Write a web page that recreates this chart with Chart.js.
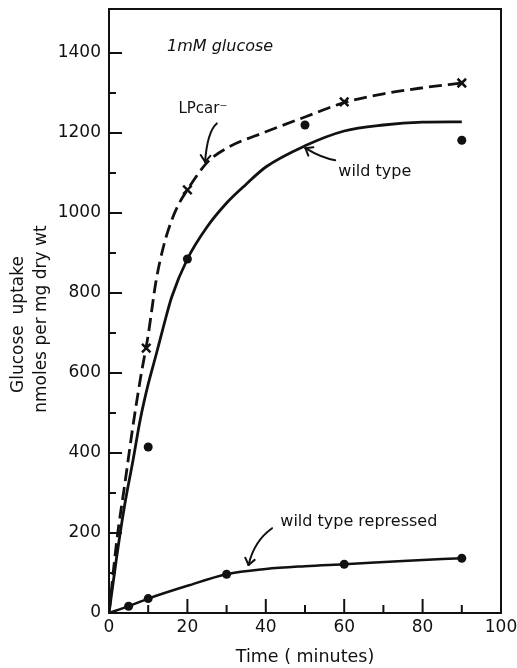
<!DOCTYPE html>
<html>
<head>
<meta charset="utf-8">
<title>Glucose uptake</title>
<script src="https://cdn.jsdelivr.net/npm/chart.js@4/dist/chart.umd.min.js"></script>
<style>
  html, body { margin: 0; padding: 0; background: #fff; }
  canvas { display: block; }
</style>
</head>
<body>
<canvas id="uptake-chart" width="517" height="668"></canvas>
<script>
// Measured points: time (minutes) and uptake (nmoles per mg dry wt)
const lpTimes = [9.5, 20, 60, 90];
const lpValues = [662, 1058, 1278, 1325];
const wtTimes = [10, 20, 50, 90];
const wtValues = [415, 885, 1220, 1182];
const repTimes = [5, 10, 30, 60, 90];
const repValues = [17, 36, 97, 122, 137];

// Hand-drawn curves
const lpCurveTimes = [0, 2, 4, 6, 8, 10, 12, 14, 16, 18, 20, 25, 30, 40, 50, 60, 70, 80, 90];
const lpCurveValues = [0, 182, 320, 460, 585, 695, 830, 920, 982, 1026, 1058, 1126, 1162, 1203, 1240, 1276, 1298, 1313, 1325];
const wtCurveTimes = [0, 2, 4, 6, 8, 10, 12, 14, 16, 20, 25, 30, 35, 40, 50, 60, 70, 80, 90];
const wtCurveValues = [0, 143, 270, 375, 485, 572, 645, 720, 790, 885, 965, 1025, 1072, 1115, 1168, 1205, 1220, 1227, 1228];
const repCurveTimes = [0, 5, 10, 20, 30, 40, 50, 60, 75, 90];
const repCurveValues = [0, 17, 36, 68, 97, 110, 117, 122, 130, 137];

// Axes
const xTicks = [0, 10, 20, 30, 40, 50, 60, 70, 80, 90, 100];
const xLabelled = [0, 20, 40, 60, 80, 100];
const yTicks = [0, 100, 200, 300, 400, 500, 600, 700, 800, 900, 1000, 1100, 1200, 1300, 1400];
const yLabelled = [0, 200, 400, 600, 800, 1000, 1200, 1400];

const ink = '#111';
const fontFamily = '"DejaVu Sans", "Liberation Sans", sans-serif';

// Annotations, placed in data units (minutes, nmoles)
const notes = [
    { text: '1mM glucose', t: 14.8, v: 1405, font: 'italic 16px ' + fontFamily },
    { text: 'LPcar\u207B', t: 17.7, v: 1249, font: '15px ' + fontFamily },
    { text: 'wild type', t: 58.5, v: 1092, font: '16px ' + fontFamily },
    { text: 'wild type repressed', t: 43.7, v: 217, font: '16px ' + fontFamily }
];
const arrows = [
    { from: [27.5, 1224], via: [25.1, 1204], to: [24.5, 1128] },
    { from: [57.7, 1132], via: [54.3, 1137], to: [50.1, 1162] },
    { from: [41.6, 212], via: [37, 180], to: [35.6, 120] }
];

function pairs(times, values) {
    return times.map((t, i) => ({ x: t, y: values[i] }));
}

function line(ctx, x1, y1, x2, y2) {
    ctx.beginPath();
    ctx.moveTo(x1, y1);
    ctx.lineTo(x2, y2);
    ctx.stroke();
}

// Frame round the plot plus inward pointing ticks
const framePlugin = {
    id: 'frame',
    afterDraw(chart) {
        const { ctx, chartArea: a, scales: { x, y } } = chart;
        ctx.save();
        ctx.strokeStyle = ink;
        ctx.lineWidth = 2;
        ctx.strokeRect(a.left, a.top, a.right - a.left, a.bottom - a.top);
        x.ticks.forEach(tick => {
            const px = x.getPixelForValue(tick.value);
            const len = xLabelled.includes(tick.value) ? 14 : 8;
            line(ctx, px, a.bottom, px, a.bottom - len);
        });
        y.ticks.forEach(tick => {
            const py = y.getPixelForValue(tick.value);
            const len = yLabelled.includes(tick.value) ? 13 : 7;
            line(ctx, a.left, py, a.left + len, py);
        });
        ctx.restore();
    }
};

// Curve labels and their little arrows
const notesPlugin = {
    id: 'notes',
    afterDatasetsDraw(chart) {
        const { ctx, scales: { x, y } } = chart;
        const px = p => [x.getPixelForValue(p[0]), y.getPixelForValue(p[1])];
        ctx.save();
        ctx.fillStyle = ink;
        ctx.textAlign = 'left';
        ctx.textBaseline = 'alphabetic';
        notes.forEach(n => {
            ctx.font = n.font;
            ctx.fillText(n.text, x.getPixelForValue(n.t), y.getPixelForValue(n.v));
        });

        ctx.strokeStyle = ink;
        ctx.lineWidth = 2;
        ctx.lineCap = 'round';
        arrows.forEach(a => {
            const [x0, y0] = px(a.from);
            const [cx, cy] = px(a.via);
            const [x1, y1] = px(a.to);
            ctx.beginPath();
            ctx.moveTo(x0, y0);
            ctx.quadraticCurveTo(cx, cy, x1, y1);
            ctx.stroke();
            // head follows the curve's end tangent
            const ang = Math.atan2(y1 - cy, x1 - cx);
            [-0.65, 0.65].forEach(d => {
                line(ctx, x1, y1, x1 - 8 * Math.cos(ang + d), y1 - 8 * Math.sin(ang + d));
            });
        });
        ctx.restore();
    }
};

Chart.defaults.font.family = fontFamily;
Chart.defaults.color = ink;

new Chart(document.getElementById('uptake-chart'), {
    type: 'scatter',
    data: {
        datasets: [
            {
                label: 'LPcar\u207B',
                data: pairs(lpTimes, lpValues),
                pointStyle: 'crossRot',
                pointRadius: 6,
                borderWidth: 2.5,
                borderColor: ink
            },
            {
                label: 'wild type',
                data: pairs(wtTimes, wtValues),
                pointStyle: 'circle',
                pointRadius: 4.5,
                borderWidth: 0,
                backgroundColor: ink
            },
            {
                label: 'wild type repressed',
                data: pairs(repTimes, repValues),
                pointStyle: 'circle',
                pointRadius: 4.5,
                borderWidth: 0,
                backgroundColor: ink
            },
            {
                label: 'LPcar\u207B curve',
                data: pairs(lpCurveTimes, lpCurveValues),
                showLine: true,
                pointRadius: 0,
                borderColor: ink,
                borderWidth: 2.8,
                borderDash: [13, 6],
                cubicInterpolationMode: 'monotone'
            },
            {
                label: 'wild type curve',
                data: pairs(wtCurveTimes, wtCurveValues),
                showLine: true,
                pointRadius: 0,
                borderColor: ink,
                borderWidth: 2.8,
                cubicInterpolationMode: 'monotone'
            },
            {
                label: 'wild type repressed curve',
                data: pairs(repCurveTimes, repCurveValues),
                showLine: true,
                pointRadius: 0,
                borderColor: ink,
                borderWidth: 2.5,
                cubicInterpolationMode: 'monotone'
            }
        ]
    },
    options: {
        responsive: false,
        devicePixelRatio: 1,
        animation: false,
        layout: { padding: { left: 0, right: 16, top: 9, bottom: 0 } },
        plugins: {
            legend: { display: false },
            tooltip: { enabled: false }
        },
        scales: {
            x: {
                type: 'linear',
                min: 0,
                max: 100,
                grid: { display: false, drawTicks: false },
                border: { display: false },
                ticks: {
                    padding: 4,
                    autoSkip: false,
                    maxRotation: 0,
                    font: { size: 17 },
                    callback: v => xLabelled.includes(v) ? String(v) : ''
                },
                title: {
                    display: true,
                    text: 'Time ( minutes)',
                    font: { size: 17.5, lineHeight: 1.2 },
                    padding: { top: 0, bottom: 0.5 }
                },
                afterBuildTicks: s => { s.ticks = xTicks.map(value => ({ value })); },
                afterFit: s => { s.height = 55; s.paddingLeft = 0; s.paddingRight = 0; }
            },
            y: {
                type: 'linear',
                min: 0,
                max: 1510,
                grid: { display: false, drawTicks: false },
                border: { display: false },
                ticks: {
                    padding: 8,
                    autoSkip: false,
                    font: { size: 17 },
                    callback: v => yLabelled.includes(v) ? String(v) : ''
                },
                title: {
                    display: true,
                    // trailing spaces nudge the centred title a little lower, as in the figure
                    text: ['Glucose  uptake     ', 'nmoles per mg dry wt   '],
                    font: { size: 17, lineHeight: 1.3 },
                    padding: { top: 8, bottom: 0 }
                },
                afterBuildTicks: s => { s.ticks = yTicks.map(value => ({ value })); },
                afterFit: s => { s.width = 109; s.paddingTop = 0; s.paddingBottom = 0; }
            }
        }
    },
    plugins: [framePlugin, notesPlugin]
});
</script>
</body>
</html>
